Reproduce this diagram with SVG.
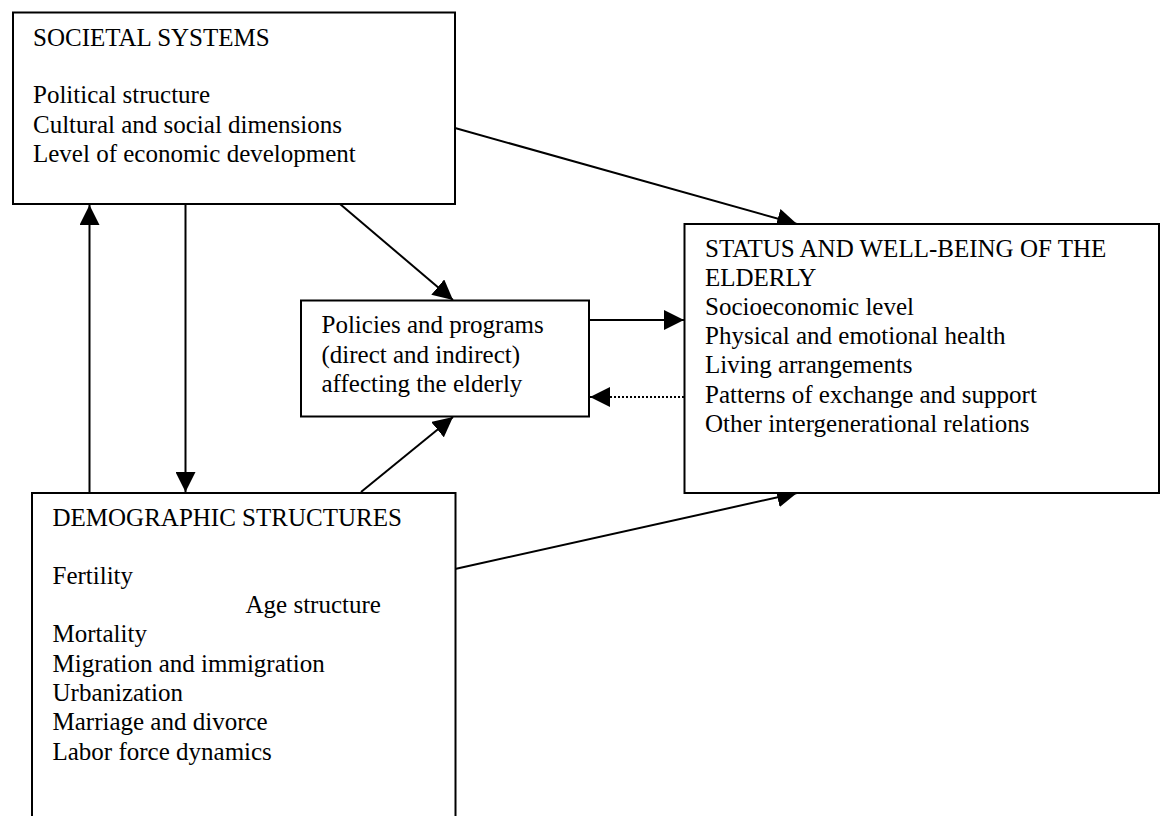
<svg xmlns="http://www.w3.org/2000/svg" width="1161" height="816" viewBox="0 0 1161 816">
<defs>
<style>
.box{fill:#fff;stroke:#000;stroke-width:2}
.t{font-family:"Liberation Serif","Times New Roman",serif;font-size:25px;fill:#000}
.c{stroke:#000;stroke-width:2;fill:none;marker-end:url(#ah)}
.d{stroke:#000;stroke-width:2;fill:none;stroke-dasharray:2 2;marker-end:url(#ah)}
</style>
<marker id="ah" markerUnits="userSpaceOnUse" markerWidth="20" markerHeight="20" refX="20" refY="10" orient="auto" viewBox="0 0 20 20">
<path d="M0,0 L20,10 L0,20 z" fill="#000"/>
</marker>
</defs>
<rect width="1161" height="816" fill="#fff"/>
<g id="connectors">
<line class="c" x1="455" y1="128" x2="797" y2="224"/>
<line class="c" x1="340" y1="204" x2="453" y2="300"/>
<line class="c" x1="589" y1="320" x2="684" y2="320"/>
<line class="d" x1="684" y1="397" x2="590" y2="397"/>
<line class="c" x1="361" y1="492" x2="453" y2="417"/>
<line class="c" x1="455" y1="569" x2="797" y2="493"/>
<line class="c" x1="89.5" y1="492" x2="89.5" y2="205"/>
<line class="c" x1="185.5" y1="205" x2="185.5" y2="492"/>
</g>
<g id="societal">
<rect class="box" x="13" y="12.5" width="442" height="191.5"/>
<text class="t" x="33" y="46">SOCIETAL SYSTEMS</text>
<text class="t" x="33" y="103">Political structure</text>
<text class="t" x="33" y="132.5">Cultural and social dimensions</text>
<text class="t" x="33" y="162">Level of economic development</text>
</g>
<g id="policies">
<rect class="box" x="301" y="300.5" width="288" height="116"/>
<text class="t" x="321.5" y="333">Policies and programs</text>
<text class="t" x="321.5" y="362.5">(direct and indirect)</text>
<text class="t" x="321.5" y="391.5">affecting the elderly</text>
</g>
<g id="status">
<rect class="box" x="684.5" y="224" width="474.5" height="269"/>
<text class="t" x="705" y="257">STATUS AND WELL-BEING OF THE</text>
<text class="t" x="705" y="286">ELDERLY</text>
<text class="t" x="705" y="315">Socioeconomic level</text>
<text class="t" x="705" y="344">Physical and emotional health</text>
<text class="t" x="705" y="373">Living arrangements</text>
<text class="t" x="705" y="402.5">Patterns of exchange and support</text>
<text class="t" x="705" y="431.5">Other intergenerational relations</text>
</g>
<g id="demographic">
<rect class="box" x="32" y="493" width="423.5" height="330"/>
<text class="t" x="52.5" y="526">DEMOGRAPHIC STRUCTURES</text>
<text class="t" x="52.5" y="584">Fertility</text>
<text class="t" x="245.5" y="613">Age structure</text>
<text class="t" x="52.5" y="642">Mortality</text>
<text class="t" x="52.5" y="671.5">Migration and immigration</text>
<text class="t" x="52.5" y="700.5">Urbanization</text>
<text class="t" x="52.5" y="730">Marriage and divorce</text>
<text class="t" x="52.5" y="759.5">Labor force dynamics</text>
</g>
</svg>
